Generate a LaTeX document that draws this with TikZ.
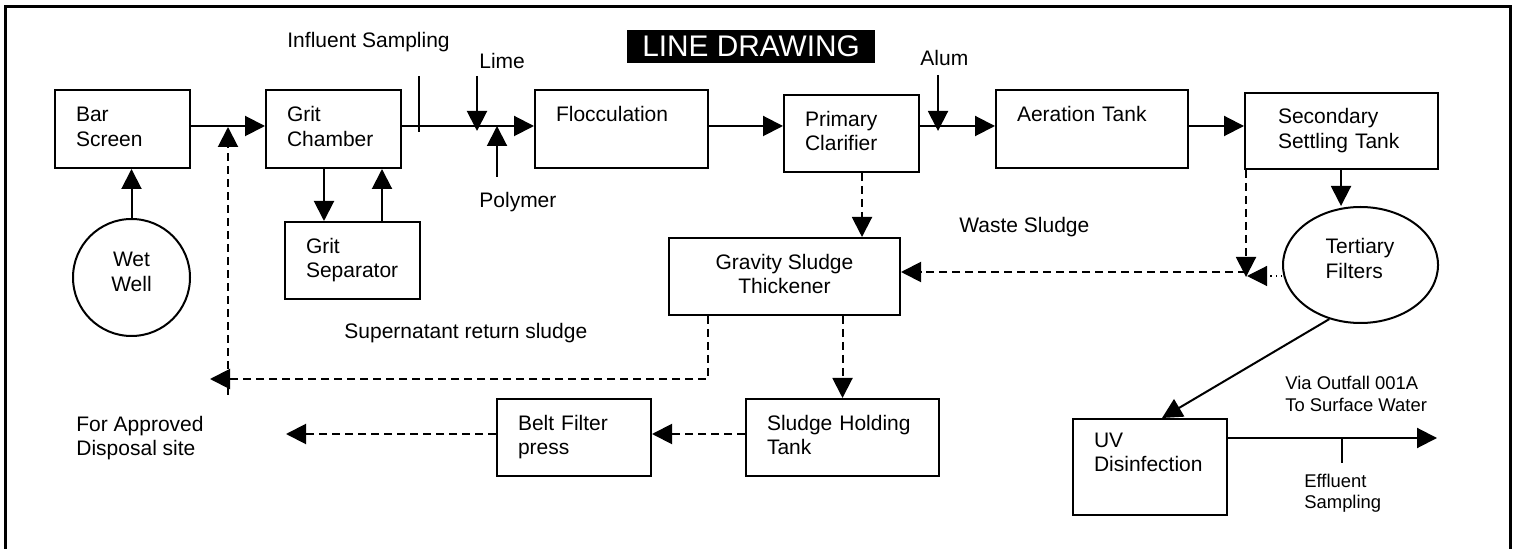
\documentclass[tikz,border=0pt]{standalone}
\usepackage{fontspec}
\setmainfont{Liberation Sans}
\usetikzlibrary{arrows.meta,shapes.geometric}
\begin{document}
\begin{tikzpicture}[x=0.5pt,y=-0.5pt,
  every node/.style={font=\fontsize{10.5}{12.3}\selectfont},
  box/.style={draw, line width=1pt, rectangle, inner xsep=10.5pt, inner ysep=0pt, align=left},
  lbl/.style={inner sep=0pt},
  smallfont/.style={font=\fontsize{9.2}{10.7}\selectfont},
  conn/.style={line width=1pt},
  arr/.style={line width=1pt, -{Triangle[length=10pt,width=10pt]}},
  darr/.style={arr, dash pattern=on 4.2pt off 2.3pt},
  dotarr/.style={line width=0.6pt, dotted, -{Triangle[length=10pt,width=10pt]}}
]
\useasboundingbox (0,0) rectangle (1518,549);
% outer frame
\draw[line width=1.5pt] (5,560) |- (1510,7) -- (1510,560);

% title
\node[fill=black, text=white, minimum width=124pt, minimum height=16.5pt, inner sep=0pt,
      font=\fontsize{14.9}{16}\selectfont] (title) at (751,46.5) {LINE DRAWING};

% boxes
\node[box, minimum width=67.5pt, minimum height=39pt, text width=46.5pt] (bs) at (122.5,129) {\strut Bar\\\strut Screen};
\node[box, minimum width=67.5pt, minimum height=39pt, text width=46.5pt] (gc) at (333.5,129) {\strut Grit\\\strut Chamber};
\node[box, minimum width=86.5pt, minimum height=39pt, text width=65.5pt] (fl) at (621.5,129) {\strut Flocculation\\\strut};
\node[box, minimum width=67.5pt, minimum height=38.5pt, text width=46.5pt] (pc) at (851.5,133.5) {\strut Primary\\\strut Clarifier};
\node[box, minimum width=96pt, minimum height=39pt, text width=75pt] (at) at (1092,129) {\strut Aeration Tank\\\strut};
\node[box, inner xsep=16.5pt, minimum width=96.5pt, minimum height=38pt, text width=63.5pt] (sst) at (1341.5,131) {\strut Secondary\\\strut Settling Tank};
\node[box, minimum width=67.5pt, minimum height=38.5pt, text width=46.5pt] (gs) at (352.5,260.5) {\strut Grit\\\strut Separator};
\node[box, align=center, minimum width=115.5pt, minimum height=38.5pt] (gst) at (784.5,276.5) {\strut Gravity Sludge\\\strut Thickener};
\node[box, minimum width=77pt, minimum height=38.5pt, text width=56pt] (bfp) at (574,437.5) {\strut Belt Filter\\\strut press};
\node[box, minimum width=96.5pt, minimum height=38.5pt, text width=75.5pt] (sht) at (842.5,437.5) {\strut Sludge Holding\\\strut Tank};
\node[box, minimum width=77pt, minimum height=48pt, text width=56pt] (uv) at (1150,467) {\strut UV\\\strut Disinfection\\\strut};

% circle and ellipse
\node[draw, circle, line width=1pt, minimum size=58.5pt, inner sep=0pt] (ww) at (131.5,277.5) {};
\node[lbl, align=center] (wwt) at (131.5,273.9) {\strut Wet\\\strut Well};
\node[draw, ellipse, line width=1pt, minimum width=77.5pt, minimum height=58pt, inner sep=0pt] (tf) at (1360.5,265) {};
\node[lbl, align=left] (tft) at (1360,260.9) {\strut Tertiary\\\strut Filters};

% labels
\node[lbl, anchor=base west] (infl) at (287,47.3) {Influent Sampling};
\node[lbl, anchor=base west] (lime) at (479,68.3) {Lime};
\node[lbl, anchor=base west] (poly) at (479,208) {Polymer};
\node[lbl, anchor=base west] (alum) at (920,65.7) {Alum};
\node[lbl, anchor=base west] (waste) at (959,232.7) {Waste Sludge};
\node[lbl, anchor=base west] (super) at (344,339) {Supernatant return sludge};
\node[lbl, anchor=north west, align=left] (disp) at (76,413.5) {\strut For Approved\\\strut Disposal site};
\node[lbl, smallfont, anchor=north west, align=left] (via) at (1285,374.3) {\strut Via Outfall 001A\\\strut To Surface Water};
\node[lbl, smallfont, anchor=north west, align=left] (effl) at (1304,471.7) {\strut Effluent\\\strut Sampling};

% helper coordinates
\coordinate (ml) at (0,126);
\coordinate (xa) at (324,0);
\coordinate (xb) at (382,0);
\coordinate (xc) at (1341,0);
\coordinate (xd) at (862,0);
\coordinate (sx) at (708,0);
\coordinate (rs) at (228,395);
\coordinate (rst) at (228,127);
\coordinate (it1) at (419,76);
\coordinate (it2) at (419,132);
\coordinate (lm) at (477,76);
\coordinate (lmt) at (477,131);
\coordinate (pm) at (497,177);
\coordinate (al) at (938,75);
\coordinate (alt) at (938,131);
\coordinate (ws) at (1246,277);
\coordinate (wj) at (1246,272);
\coordinate (dt) at (1247,276);
\coordinate (sl) at (210,379);
\coordinate (bl) at (0,434);
\coordinate (dd) at (286,434);
\coordinate (out) at (1437,438);
\coordinate (et1) at (1342,438);
\coordinate (et2) at (1342,463);

% main flow
\draw[arr] (ww.north) -- (ww.north |- bs.south);
\draw[arr] (bs.east |- ml) -- (gc.west |- ml);
\draw[darr] (rs) -- (rst);
\draw[arr] (gc.south -| xa) -- (gs.north -| xa);
\draw[arr] (gs.north -| xb) -- (gc.south -| xb);
\draw[arr] (gc.east |- ml) -- (fl.west |- ml);
\draw[conn] (it1) -- (it2);
\draw[arr] (lm) -- (lmt);
\draw[arr] (pm) -- (pm |- ml);
\draw[arr] (fl.east |- ml) -- (pc.west |- ml);
\draw[arr] (pc.east |- ml) -- (at.west |- ml);
\draw[arr] (al) -- (alt);
\draw[arr] (at.east |- ml) -- (sst.west |- ml);
\draw[arr] (sst.south -| xc) -- (tf.north -| xc);

% sludge lines
\draw[darr] (pc.south -| xd) -- (gst.north -| xd);
\draw[darr] (sst.south -| ws) -- (ws);
\draw[darr] (wj) -- (gst.east |- wj);
\draw[dotarr] (tf.west |- dt) -- (dt);
\draw[darr] (gst.south -| sx) |- (sl);
\draw[darr] (sht.north |- gst.south) -- (sht.north);
\draw[darr] (sht.west |- bl) -- (bfp.east |- bl);
\draw[darr] (bfp.west |- dd) -- (dd);

% effluent
\draw[arr] (tf.240) -- ([xshift=6pt]uv.north);
\draw[arr] (uv.east |- out) -- (out);
\draw[line width=0.6pt] (et1) -- (et2);
\end{tikzpicture}
\end{document}
